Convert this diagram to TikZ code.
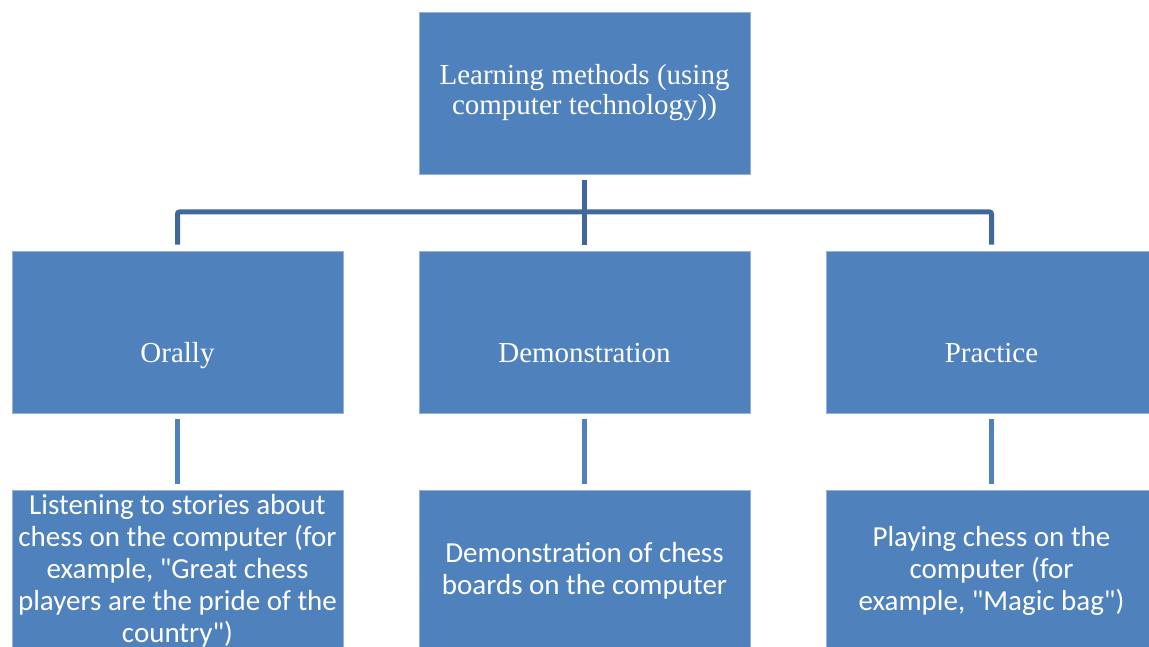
\documentclass[tikz,border=0pt]{standalone}
\usepackage{fontspec}
\setmainfont{Liberation Serif}
\newfontfamily\calib{Carlito}
\usepackage{tikz}

\definecolor{boxblue}{HTML}{4F81BD}
\definecolor{busblue}{HTML}{41689A}

\tikzset{
  method/.style={fill=boxblue, draw=boxblue!60!white, line width=0.8pt, text=white,
    minimum width=331pt, minimum height=162pt, inner sep=0pt, align=center,
    font=\fontsize{29}{30}\selectfont},
  kind/.style={method, text height=66pt, text depth=6pt},
  detail/.style={method, font=\calib\fontsize{29}{32}\selectfont},
  bus/.style={draw=busblue, line width=5pt, shorten <=6pt, shorten >=6pt},
  sublink/.style={draw=boxblue, line width=5pt, shorten <=6pt, shorten >=6pt}
}

\begin{document}
\begin{tikzpicture}[x=1pt, y=-1pt]
\useasboundingbox (0,0) rectangle (1149,647);
\clip (0,0) rectangle (1149,647);

\node[method] (top) at (584.5, 93) {Learning methods (using\\computer technology))};

\node[kind] (orally) at (177.5, 332) {Orally};
\node[kind] (demo) at (584.5, 332) {Demonstration};
\node[kind] (pract) at (991.5, 332) {Practice};

\node[detail] (listen) at (177.5, 571) {Listening to stories about\\chess on the computer (for\\example, "Great chess\\players are the pride of the\\country")};
\node[detail] (boards) at (584.5, 571) {Demonstration of chess\\boards on the computer};
\node[detail] (play) at (991.5, 571) {Playing chess on the\\computer (for\\example, "Magic bag")};

\coordinate (mid) at (584.5, 212);
\draw[bus] (top) -- (demo);
\draw[bus, rounded corners=2pt] (orally.north) |- (mid) -| (pract.north);

\foreach \a/\b in {orally/listen, demo/boards, pract/play}{
\draw[sublink] (\a) -- (\b);
}
\end{tikzpicture}
\end{document}
